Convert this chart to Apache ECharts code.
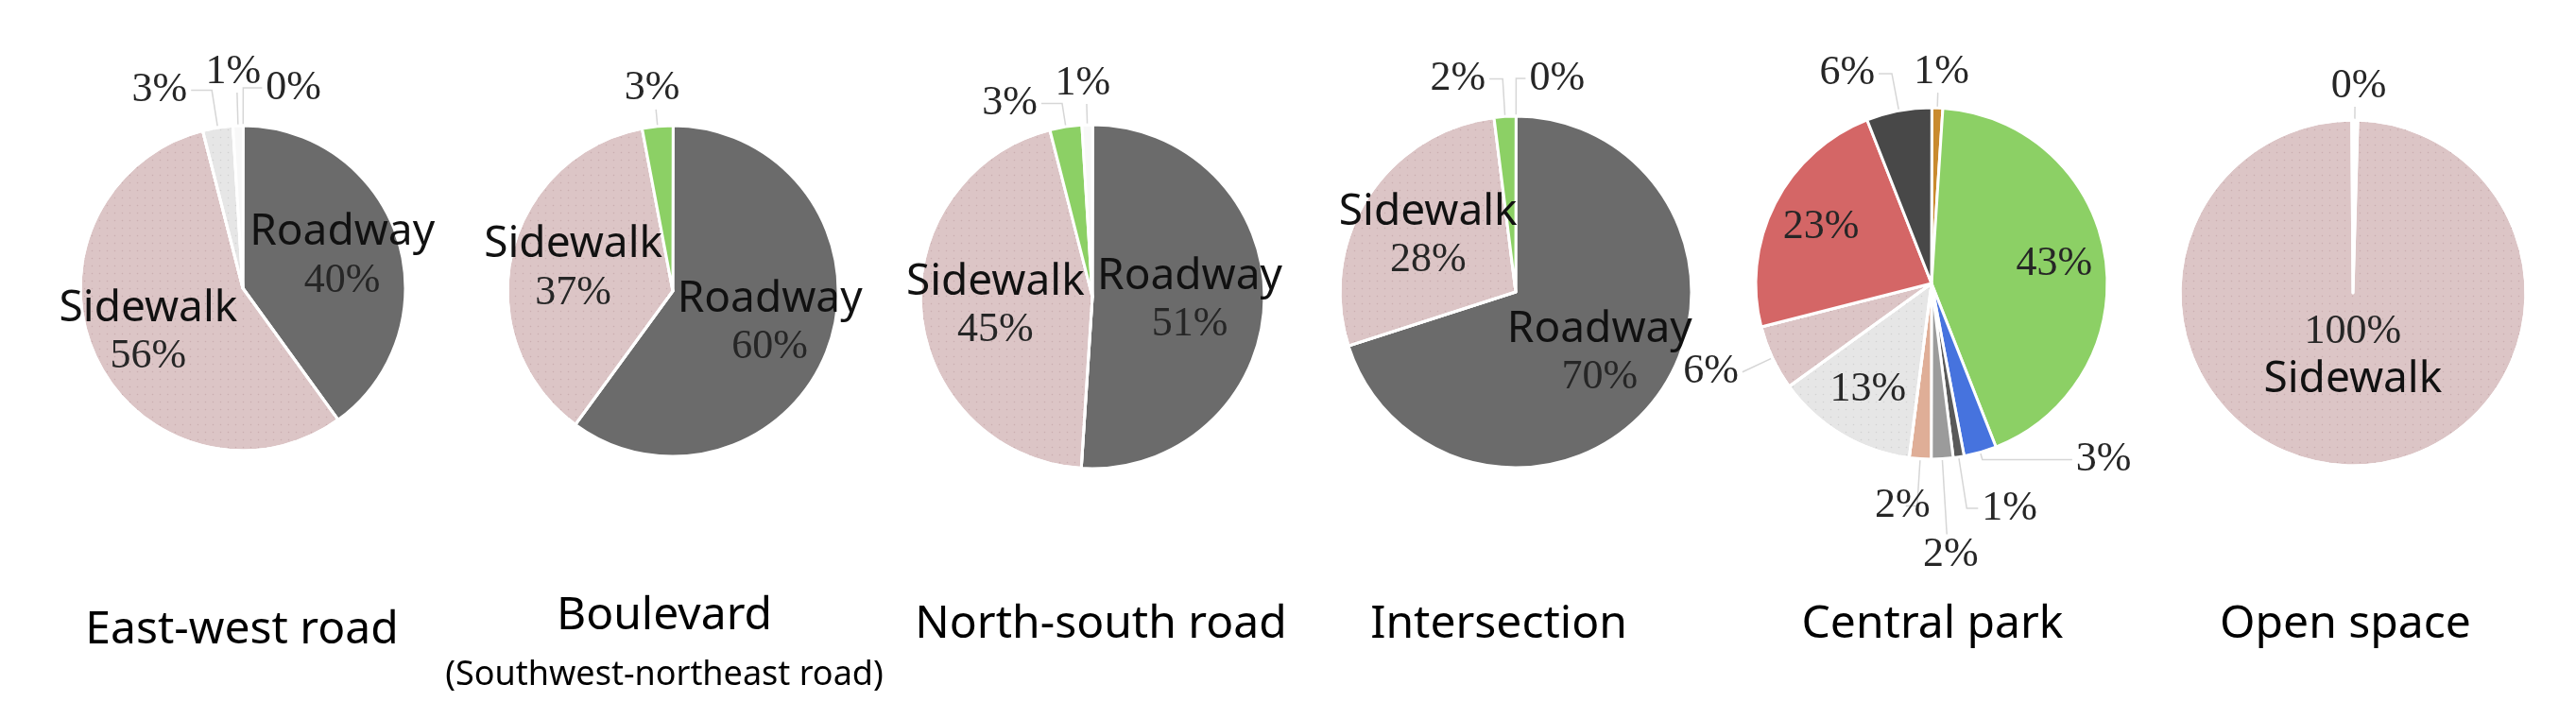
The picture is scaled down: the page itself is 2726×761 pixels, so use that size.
<!DOCTYPE html>
<html>
<head>
<meta charset="utf-8">
<title>Surface share by area</title>
<script src="https://cdn.jsdelivr.net/npm/echarts@6/dist/echarts.min.js"></script>
<style>
  html, body { margin: 0; padding: 0; background: #fff; }
  #chart { width: 2726px; height: 761px; }
</style>
</head>
<body>
<div id="chart"></div>
<script>
// titles under each pie
const areaTitles = ["East-west road", "Boulevard", "North-south road", "Intersection", "Central park", "Open space"];
const boulevardNote = "(Southwest-northeast road)";

// slices of each pie, clockwise from 12 o'clock (values in %)
// zero slices sit right at 12 o'clock
const eastWestSlices = ["Other", "Roadway", "Sidewalk", "Light gray", "White"];
const eastWestValues = [0, 40, 56, 3, 1];

const boulevardSlices = ["Roadway", "Sidewalk", "Green"];
const boulevardValues = [60, 37, 3];

const northSouthSlices = ["Roadway", "Sidewalk", "Green", "White"];
const northSouthValues = [51, 45, 3, 1];

const intersectionSlices = ["Other", "Roadway", "Sidewalk", "Green"];
const intersectionValues = [0, 70, 28, 2];

const centralParkSlices = ["Orange", "Green", "Blue", "Dark gray", "Gray", "Peach", "Light gray", "Sidewalk", "Red", "Charcoal"];
const centralParkValues = [1, 43, 3, 1, 2, 2, 13, 6, 23, 6];

const openSpaceSlices = ["Other", "Sidewalk"];
const openSpaceValues = [0, 100];

const pies = [
  { slices: eastWestSlices, values: eastWestValues, names: true },
  { slices: boulevardSlices, values: boulevardValues, names: true },
  { slices: northSouthSlices, values: northSouthValues, names: true },
  { slices: intersectionSlices, values: intersectionValues, names: true },
  { slices: centralParkSlices, values: centralParkValues, names: false },
  { slices: openSpaceSlices, values: openSpaceValues, names: true, pctFirst: true },
];

// ---- styling / layout ----
const sliceColors = {
  "Roadway": "#6b6b6b",
  "Sidewalk": "#dcc5c6",
  "Green": "#8cd065",
  "Light gray": "#e6e6e6",
  "White": "#f8f8f8",
  "Other": "#ffffff",
  "Orange": "#c98a2e",
  "Blue": "#4673de",
  "Dark gray": "#595959",
  "Gray": "#9b9b9b",
  "Peach": "#dfae97",
  "Red": "#d46666",
  "Charcoal": "#484848",
};
const dotted = { "Sidewalk": "rgba(170,130,135,0.35)", "Light gray": "rgba(170,170,170,0.35)" };
const namedSlices = ["Roadway", "Sidewalk"];
const insideMin = 10;
// a hair under 90 so a 0 % slice at the top gets its label on the right
const startDeg = 89.9;

const layout = [
  { center: [257, 305], radius: 172, labelRing: 1.25 },
  { center: [712, 308], radius: 175, labelRing: 1.2 },
  { center: [1156, 314], radius: 182, labelRing: 1.1 },
  { center: [1604, 309], radius: 186, labelRing: 1.15 },
  { center: [2044, 300], radius: 186, labelRing: 1.38 },
  { center: [2490, 310], radius: 183, labelRing: 0.7, pad: 1 },
];

// [length, length2] of leader lines for the outside labels
const leaders = [
  { "Other": [40, 20], "Light gray": [40, 22], "White": [35, 0] },
  { "Green": [18, 0] },
  { "Green": [25, 22], "White": [22, 0] },
  { "Other": [40, 10], "Green": [40, 14] },
  { "Orange": [16, 0], "Blue": [8, 95], "Dark gray": [55, 12], "Gray": [80, 0], "Peach": [50, 12], "Sidewalk": [35, 0], "Charcoal": [40, 14] },
  { "Other": [14, 0] },
];
// outside labels that sit on top of / under the end of their line
const stacked = [
  { "White": "above" },
  { "Green": "above" },
  { "White": "above" },
  {},
  { "Orange": "above", "Gray": "below" },
  { "Other": "above" },
];

const titleSpots = [[256, 683], [703, 668], [1165, 677], [1586, 677], [2045, 677], [2482, 677]];
const noteSpot = [703, 727];

const pctFont = "Liberation Serif";
const nameFont = "Noto Sans";

function sliceStyle(key) {
  const st = { color: sliceColors[key] };
  if (dotted[key]) {
    st.decal = {
      symbol: "circle",
      symbolSize: 0.5,
      dashArrayX: [3, 5],
      dashArrayY: [3, 5],
      color: dotted[key],
    };
  }
  return st;
}

function pieSeries(i) {
  const p = pies[i];
  const lay = layout[i];
  const shapes = {
    type: "pie",
    center: lay.center,
    radius: lay.radius,
    startAngle: startDeg,
    padAngle: lay.pad || 0,
    avoidLabelOverlap: false,
    labelLayout: (params) => {
      const how = stacked[i][p.slices[params.dataIndex]];
      if (how === "above") return { align: "center", verticalAlign: "bottom" };
      if (how === "below") return { align: "center", verticalAlign: "top" };
      return { moveOverlap: "shiftX" };
    },
    emphasis: { disabled: true },
    itemStyle: { borderColor: "#fff", borderWidth: 3 },
    label: {
      position: "outside",
      formatter: "{c}%",
      fontFamily: pctFont,
      fontSize: 44,
      color: "#262626",
      distanceToLabelLine: 4,
    },
    labelLine: { lineStyle: { color: "#d6d6d6", width: 1.5 } },
    data: p.slices.map((s, j) => {
      const big = p.values[j] >= insideMin;
      const len = leaders[i][s] || [20, 10];
      return {
        name: s,
        value: p.values[j],
        itemStyle: sliceStyle(s),
        label: { show: !big },
        labelLine: { show: !big, length: len[0], length2: len[1] },
      };
    }),
  };
  // transparent twin, only to carry the inside labels a bit further out
  const labels = {
    type: "pie",
    center: lay.center,
    radius: lay.radius * lay.labelRing,
    startAngle: startDeg,
    silent: true,
    z: 3,
    avoidLabelOverlap: false,
    itemStyle: { color: "rgba(0,0,0,0)", borderWidth: 0 },
    labelLine: { show: false },
    label: {
      position: "inside",
      formatter: (d) => {
        const pct = "{p|" + d.value + "%}";
        if (!p.names || namedSlices.indexOf(d.name) < 0) return pct;
        const nm = "{n|" + d.name + "}";
        return p.pctFirst ? pct + "\n" + nm : nm + "\n" + pct;
      },
      rich: {
        n: { fontFamily: nameFont, fontSize: 46, color: "#111", lineHeight: 52 },
        p: { fontFamily: pctFont, fontSize: 44, color: "#262626", lineHeight: 50 },
      },
    },
    data: p.slices.map((s, j) => ({
      name: s,
      value: p.values[j],
      label: { show: p.values[j] >= insideMin },
    })),
  };
  return [shapes, labels];
}

const chart = echarts.init(document.getElementById("chart"));

const titles = areaTitles.map((t, i) => ({
  type: "text",
  x: titleSpots[i][0],
  y: titleSpots[i][1] - 16,
  style: { text: t, font: '48px "Noto Sans"', fill: "#000", align: "center", verticalAlign: "middle" },
}));
titles.push({
  type: "text",
  x: noteSpot[0],
  y: noteSpot[1] - 12,
  style: { text: boulevardNote, font: '36px "Noto Sans"', fill: "#000", align: "center", verticalAlign: "middle" },
});

chart.setOption({
  backgroundColor: "#fff",
  animation: false,
  graphic: titles,
  series: pies.flatMap((p, i) => pieSeries(i)),
});
</script>
</body>
</html>
